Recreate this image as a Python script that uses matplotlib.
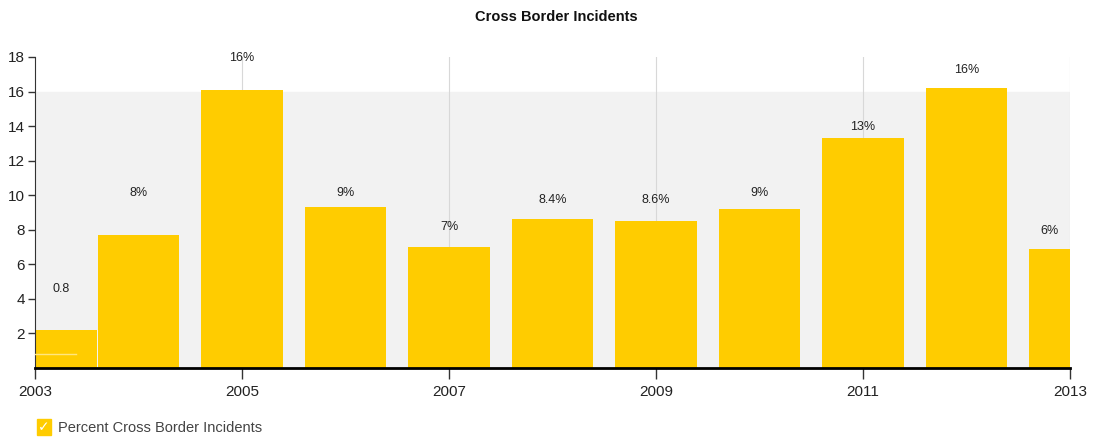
import matplotlib.pyplot as plt
from matplotlib.patches import Rectangle

# values
years = [2003, 2004, 2005, 2006, 2007, 2008, 2009, 2010, 2011, 2012, 2013]
heights = [2.2, 7.7, 16.1, 9.3, 7.0, 8.6, 8.5, 9.2, 13.3, 16.2, 6.9]
labels = ['0.8', '8%', '16%', '9%', '7%', '8.4%', '8.6%', '9%', '13%', '16%', '6%']
label_y = [4.2, 9.8, 17.6, 9.8, 7.8, 9.4, 9.4, 9.8, 13.6, 16.9, 7.6]
first_value = 0.8

xticks = [2003, 2005, 2007, 2009, 2011, 2013]
yticks = [2, 4, 6, 8, 10, 12, 14, 16, 18]

narrow = ['Liberation Sans Narrow', 'Liberation Sans', 'DejaVu Sans']
plt.rcParams['font.family'] = ['Liberation Sans', 'DejaVu Sans']

fig = plt.figure(figsize=(11.13, 4.45), dpi=100)
ax = fig.add_axes([0.0314, 0.173, 0.930, 0.699])

bar_color = '#FFCC00'

# grey band up to 16
ax.axhspan(0, 16, color='#f2f2f2', zorder=0)
for x in xticks[1:]:
    ax.axvline(x, color='#d8d8d8', lw=0.8, zorder=0.5)

# first bar is drawn wider in the reference, starting at the axis
ax.bar(years[0], heights[0], width=0.6, align='edge', color=bar_color, zorder=2)
ax.plot([years[0], years[0] + 0.4], [first_value, first_value], color='#ffe680', lw=1, zorder=3)
ax.bar(years[1:], heights[1:], width=0.79, color=bar_color, zorder=2)

for x, ly, t in zip(years, label_y, labels):
    xx = x + 0.25 if x == years[0] else x
    if x == years[-1]:
        xx = x - 0.2
    ax.text(xx, ly, t, ha='center', va='bottom', fontsize=9, color='#222222')

ax.set_xlim(2003, 2013)
ax.set_ylim(0, 18)
ax.set_xticks(xticks)
ax.set_yticks(yticks)
ax.tick_params(axis='x', length=8, width=1, color='#333333', pad=4)
ax.tick_params(axis='y', length=5, width=1, color='#333333', pad=2)
for lab in ax.get_xticklabels() + ax.get_yticklabels():
    lab.set_family(narrow)
    lab.set_fontsize(11)
    lab.set_color('#222222')

ax.spines['top'].set_visible(False)
ax.spines['right'].set_visible(False)
ax.spines['left'].set_color('#333333')
ax.spines['bottom'].set_color('#000000')
ax.spines['bottom'].set_linewidth(2)

fig.text(0.5, 0.962, 'Cross Border Incidents', ha='center', va='center',
         fontsize=10.5, fontweight='bold', family=narrow, color='#111111')

# legend checkbox
fig.patches.append(Rectangle((0.0332, 0.022), 0.0125, 0.036, transform=fig.transFigure,
                             color=bar_color, zorder=5))
fig.text(0.0395, 0.040, '\u2713', ha='center', va='center', fontsize=10,
         color='white', family=['DejaVu Sans'], zorder=6)
fig.text(0.052, 0.038, 'Percent Cross Border Incidents', ha='left', va='center',
         fontsize=10.5, family=narrow, color='#444444')

fig.savefig('out.png', dpi=100, facecolor='white')
